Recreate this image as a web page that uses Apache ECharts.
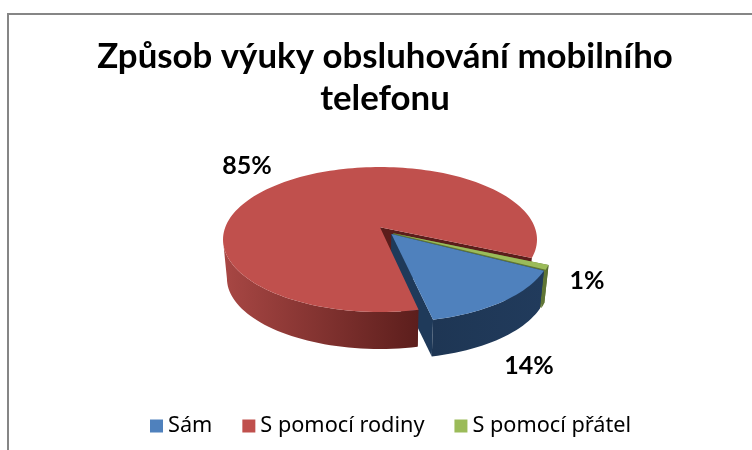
<!DOCTYPE html>
<html>
<head>
<meta charset="utf-8">
<style>
  html, body { margin: 0; padding: 0; background: #fff; }
  #chart { width: 752px; height: 450px; }
</style>
<script src="https://cdn.jsdelivr.net/npm/echarts@6/dist/echarts.min.js"></script>
</head>
<body>
<div id="chart"></div>
<script>
const titleLines = ['Způsob výuky obsluhování mobilního', 'telefonu'];
const categories = ['Sám', 'S pomocí rodiny', 'S pomocí přátel'];
const values = [14, 85, 1];

const topColors = ['#4F81BD', '#C0504D', '#9BBB59'];
// left/right colours of the outer wall
const wallColors = [['#1E3654', '#213B5C'], ['#A84744', '#5C1E1C'], ['#5F7535', '#55692F']];
const cutColors = ['#1F3A5A', '#5A1D1B', '#5F7535'];
// how far a slice is pulled out, and in which direction (degrees)
const explode = [0.12, 0, 0.12];
const explodeDir = [52.8, 0, 45];
const labelPos = [[529, 366], [247, 166], [587, 281]];

// paint levels, shared by all slices
const Z = {
  redCut: 1, greenWall: 2, greenTop: 3, blueCut: 4,
  redWall: 5, redTop: 6, blueWall: 7, blueTop: 8, label: 9
};
const levels = [
  { cut: Z.blueCut, wall: Z.blueWall, top: Z.blueTop },
  { cut: Z.redCut, wall: Z.redWall, top: Z.redTop },
  { cut: Z.greenWall, wall: Z.greenWall, top: Z.greenTop }
];

// pie geometry
const CX = 380, CY = 239.5, RX = 157, RY = 72.5;
const PERSP = 0.17;      // how far the pie centre sits above the ellipse centre
const BASE_Y = 278.3, BASE_K = 0.975;   // floor of the pie is a bit smaller
const START = 27.6;      // degrees, clockwise from 3 o'clock
const FRONT_END = 170;   // past this angle the outer wall turns away from the viewer

const total = values.reduce((a, b) => a + b, 0);
const rad = d => d * Math.PI / 180;

// disk coordinates -> screen, a real projective map of the unit circle
function project(x, y) {
  const w = 1 - PERSP * y;
  const u = x * Math.sqrt(1 - PERSP * PERSP) / w;
  const v = (y - PERSP) / w;
  return [CX + u * RX, CY + v * RY];
}
function toBase(p) {
  return [CX + (p[0] - CX) * BASE_K, BASE_Y + (p[1] - CY) * BASE_K];
}

function sliceAngles(i) {
  let a0 = START;
  // Sám starts at START, the rest follow clockwise
  for (let k = 0; k < i; k++) a0 += values[k] / total * 360;
  if (a0 >= 360) a0 -= 360;
  return [a0, a0 + values[i] / total * 360];
}

function rimPoints(a0, a1, ox, oy) {
  const pts = [];
  const n = Math.max(2, Math.ceil((a1 - a0) / 2));
  for (let j = 0; j <= n; j++) {
    const a = rad(a0 + (a1 - a0) * j / n);
    pts.push(project(Math.cos(a) + ox, Math.sin(a) + oy));
  }
  return pts;
}

function poly(points, fill, z2) {
  return { type: 'polygon', shape: { points }, style: { fill }, z2 };
}

function renderSlice(i) {
  const [a0, a1] = sliceAngles(i);
  const dir = rad(explodeDir[i]);
  const ox = explode[i] * Math.cos(dir), oy = explode[i] * Math.sin(dir);
  const apex = project(ox, oy);
  const rim = rimPoints(a0, a1, ox, oy);
  const kids = [];

  // cut faces
  const first = rim[0], last = rim[rim.length - 1];
  [first, last].forEach(p => {
    kids.push(poly([apex, p, toBase(p), toBase(apex)], cutColors[i], levels[i].cut));
  });

  // outer wall, only the part turned to the viewer
  const front = rimPoints(a0, Math.min(a1, FRONT_END), ox, oy);
  const xs = front.map(p => p[0]);
  kids.push({
    type: 'polygon',
    shape: { points: front.concat(front.map(toBase).reverse()) },
    style: {
      fill: {
        type: 'linear', x: Math.min(...xs), y: 0, x2: Math.max(...xs), y2: 0, global: true,
        colorStops: [
          { offset: 0, color: wallColors[i][0] },
          { offset: 1, color: wallColors[i][1] }
        ]
      }
    },
    z2: levels[i].wall
  });

  // top face
  kids.push(poly([apex].concat(rim), topColors[i], levels[i].top));

  // data label
  kids.push({
    type: 'text',
    x: labelPos[i][0], y: labelPos[i][1],
    style: {
      text: values[i] + '%', fill: '#000', align: 'center', verticalAlign: 'middle',
      font: 'bold 25px Lato'
    },
    z2: Z.label
  });
  return { type: 'group', children: kids };
}

const series = categories.map((name, i) => ({
  name,
  type: 'custom',
  coordinateSystem: 'none',
  silent: true,
  itemStyle: { color: topColors[i] },
  data: [values[i]],
  renderItem: () => renderSlice(i)
}));

const chart = echarts.init(document.getElementById('chart'), null, { renderer: 'canvas' });
chart.setOption({
  animation: false,
  backgroundColor: '#fff',
  title: {
    text: titleLines.join('\n'),
    left: 380, top: 31, textAlign: 'center',
    textStyle: { fontFamily: 'Lato', fontWeight: 'bold', fontSize: 34.8, lineHeight: 42, color: '#000' }
  },
  legend: {
    data: categories,
    left: 145, top: 410,
    icon: 'rect', itemWidth: 13, itemHeight: 13, itemGap: 30,
    textStyle: { fontFamily: 'Noto Sans', fontSize: 21.7, color: '#000' }
  },
  graphic: [{
    type: 'polyline',
    shape: { points: [[8, 450], [8, 14], [752, 14]] },
    style: { stroke: '#868686', lineWidth: 2, fill: null }
  }],
  series
});
</script>
</body>
</html>
